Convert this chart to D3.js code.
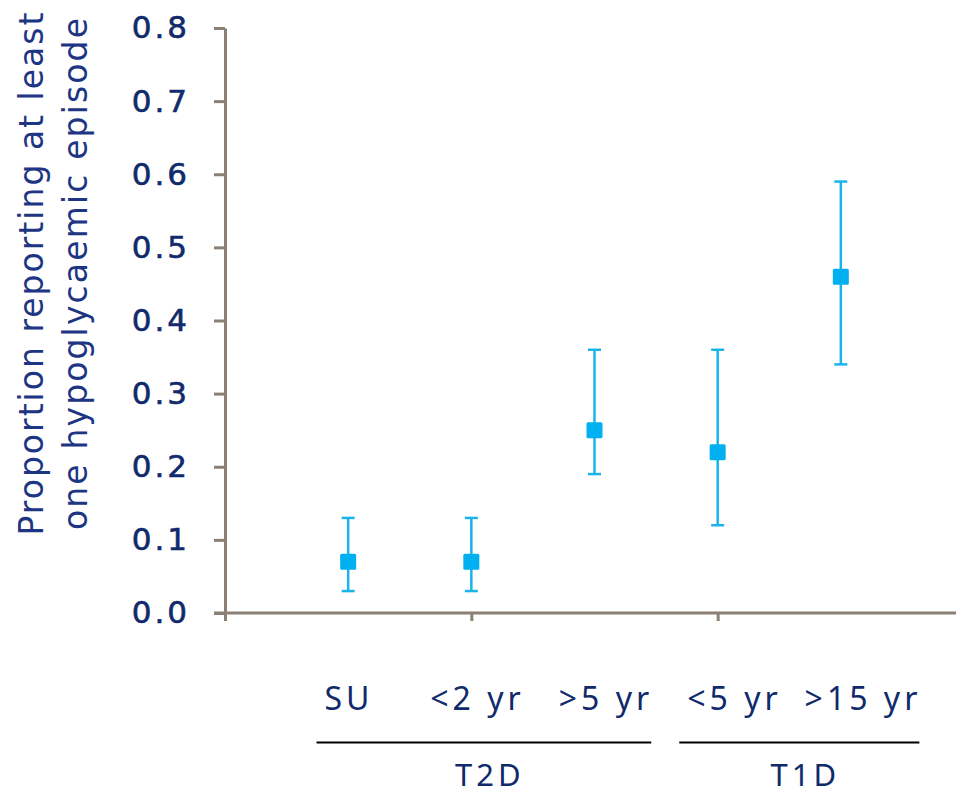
<!DOCTYPE html>
<html>
<head>
<meta charset="utf-8">
<script src="https://cdn.jsdelivr.net/npm/d3@7"></script>
<style>
  html, body { margin: 0; padding: 0; background: #ffffff; }
  svg { display: block; }
</style>
</head>
<body>
<svg id="chart" width="956" height="797"></svg>
<script>
// Subgroups, plotted left to right at positions 1..5
const categories = ["SU", "<2 yr", ">5 yr", "<5 yr", ">15 yr"];
const groups = ["T2D", "T2D", "T2D", "T1D", "T1D"];
const groupNames = ["T2D", "T1D"];
// Proportion with at least one episode and its interval
const estimate = [0.07, 0.07, 0.25, 0.22, 0.46];
const lower    = [0.03, 0.03, 0.19, 0.12, 0.34];
const upper    = [0.13, 0.13, 0.36, 0.36, 0.59];
const yTicks = [0.0, 0.1, 0.2, 0.3, 0.4, 0.5, 0.6, 0.7, 0.8];
const xTicks = [0, 2, 4, 6];
const yTitle = ["Proportion reporting at least", "one hypoglycaemic episode"];

const svg = d3.select("#chart");
const axisColor = "#8a8074";
const navy = "#102a6b";
const markColor = "#00b0f0";
const barColor = "#1ab3ec";
const sansFont = "'DejaVu Sans', Verdana, sans-serif";
const labelFont = "'Noto Sans', 'Open Sans', sans-serif";

const x = d3.scaleLinear().domain([0, 6]).range([225, 964]);
const y = d3.scaleLinear().domain([0, 0.8]).range([613, 28]);
// Label row under the axis is spread a little wider than the points
const xLabel = d3.scaleLinear().domain([1, 5]).range([347, 861]);

// X axis: plain line with ticks every two positions, no labels
const xAxis = svg.append("g")
  .attr("transform", `translate(0,${y(0)})`)
  .call(d3.axisBottom(x).tickValues(xTicks).tickSize(8).tickSizeOuter(0).tickFormat(""));
xAxis.select(".domain").remove();
xAxis.append("line")
  .attr("x1", 214).attr("x2", 956).attr("y1", 0).attr("y2", 0)
  .attr("stroke", axisColor).attr("stroke-width", 3);
xAxis.selectAll(".tick line").attr("stroke", axisColor).attr("stroke-width", 3);

// Y axis
const yAxis = svg.append("g")
  .attr("transform", `translate(${x(0)},0)`)
  .call(d3.axisLeft(y).tickValues(yTicks).tickSize(11).tickSizeOuter(0).tickPadding(24)
    .tickFormat(d3.format(".1f")));
yAxis.select(".domain").attr("stroke", axisColor).attr("stroke-width", 3);
yAxis.selectAll(".tick line").attr("stroke", axisColor).attr("stroke-width", 3);
yAxis.selectAll(".tick text")
  .attr("fill", navy)
  .attr("font-family", sansFont)
  .attr("font-size", 31)
  .attr("letter-spacing", 3)
  .attr("stroke", navy)
  .attr("stroke-width", 0.6);

// Y axis title (two lines, rotated)
const titleBase = [43, 87];
const titleLen = [523, 512];
svg.append("g")
  .attr("transform", "translate(0,274) rotate(-90)")
  .selectAll("text").data(yTitle).join("text")
  .attr("x", 0)
  .attr("y", (d, i) => titleBase[i])
  .attr("text-anchor", "middle")
  .attr("fill", "#1d3583")
  .attr("font-family", sansFont)
  .attr("font-size", 33)
  .attr("textLength", (d, i) => titleLen[i])
  .attr("lengthAdjust", "spacing")
  .text(d => d);

// Error bars
const cap = 6.5;
const bars = svg.append("g").attr("stroke", barColor).attr("stroke-width", 2.5);
categories.forEach((c, i) => {
  const cx = x(i + 1);
  bars.append("line").attr("x1", cx).attr("x2", cx).attr("y1", y(lower[i])).attr("y2", y(upper[i]));
  bars.append("line").attr("x1", cx - cap).attr("x2", cx + cap).attr("y1", y(lower[i])).attr("y2", y(lower[i]));
  bars.append("line").attr("x1", cx - cap).attr("x2", cx + cap).attr("y1", y(upper[i])).attr("y2", y(upper[i]));
});

// Point estimates as squares
const s = 16;
svg.append("g").selectAll("rect").data(estimate).join("rect")
  .attr("x", (d, i) => x(i + 1) - s / 2)
  .attr("y", d => y(d) - s / 2)
  .attr("width", s).attr("height", s)
  .attr("rx", 1.5)
  .attr("fill", markColor);

// Category labels
const spacing = 4;
const labels = svg.append("g").selectAll("text").data(categories).join("text")
  .attr("x", (d, i) => xLabel(i + 1) + spacing / 2)
  .attr("y", 710)
  .attr("text-anchor", "middle")
  .attr("fill", navy)
  .attr("font-family", labelFont)
  .attr("font-size", 32)
  .attr("letter-spacing", spacing)
  .text(d => d);

// Group brackets under the labels, spanning each group's labels
groupNames.forEach(g => {
  const boxes = labels.filter((d, i) => groups[i] === g).nodes().map(n => n.getBBox());
  const x1 = d3.min(boxes, b => b.x) - 8;
  const x2 = d3.max(boxes, b => b.x + b.width) - 2;
  svg.append("line")
    .attr("x1", x1).attr("x2", x2).attr("y1", 742.5).attr("y2", 742.5)
    .attr("stroke", "#000000").attr("stroke-width", 2);
  svg.append("text")
    .attr("x", (x1 + x2) / 2 + 6)
    .attr("y", 786)
    .attr("text-anchor", "middle")
    .attr("fill", navy)
    .attr("font-family", labelFont)
    .attr("font-size", 31)
    .attr("letter-spacing", 4)
    .text(g);
});
</script>
</body>
</html>
